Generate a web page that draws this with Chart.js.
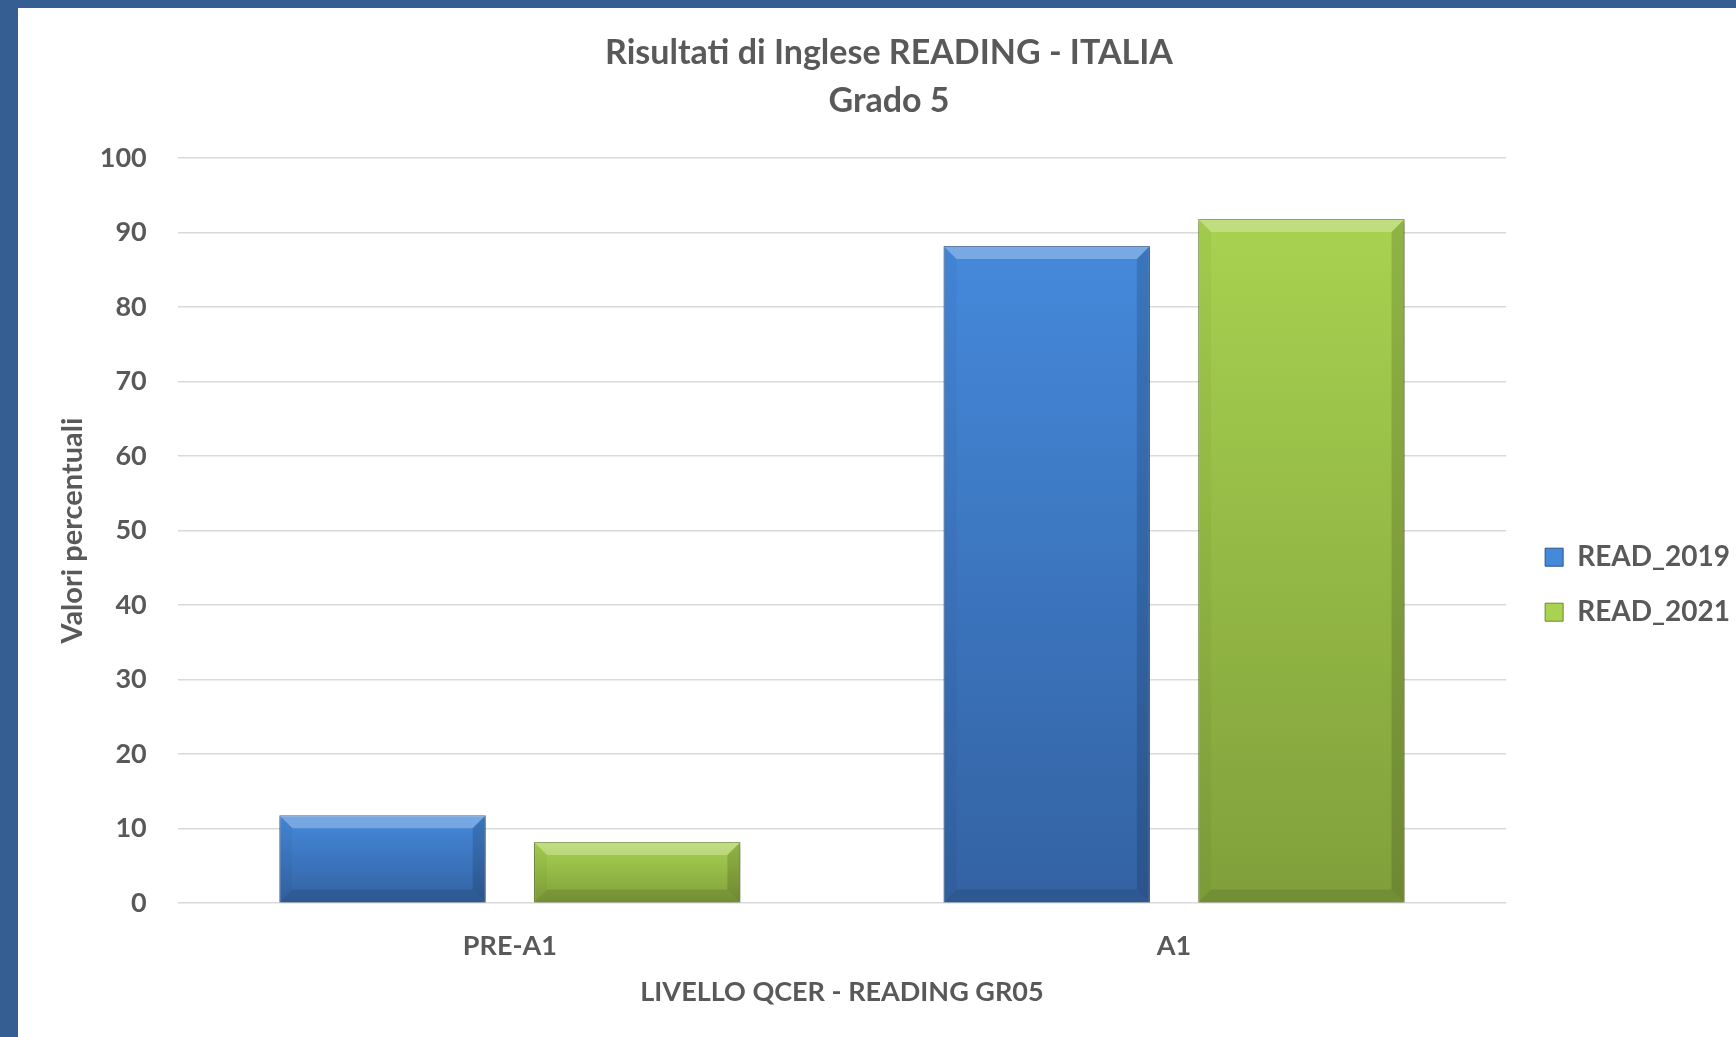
<!DOCTYPE html>
<html><head><meta charset="utf-8">
<script src="https://cdn.jsdelivr.net/npm/chart.js@4.4.1/dist/chart.umd.min.js"></script>
<style>
html,body{margin:0;padding:0;background:#355f92;width:1736px;height:1037px;overflow:hidden;}
#wrap{position:absolute;left:18px;top:8px;width:1718px;height:1029px;background:#ffffff;}
canvas{display:block;}
</style></head><body>
<div id="wrap"><canvas id="c" width="1718" height="1029" style="width:1718px;height:1029px"></canvas></div>
<script>
const categories = ['PRE-A1', 'A1'];
const read2019 = [11.8, 88.2];
const read2021 = [8.2, 91.8];
const seriesNames = ['READ_2019', 'READ_2021'];
const chartTitle = ['Risultati di Inglese READING - ITALIA', 'Grado 5'];
const yTitle = 'Valori percentuali';
const xTitle = 'LIVELLO QCER - READING GR05';
const yMin = 0, yMax = 100, yStep = 10;

const FONT = 'Lato, "Open Sans", sans-serif';
const GREY = '#595959';

function barFill(top, bottom, solid) {
  return (c) => {
    const chart = c.chart;
    if (c.type !== 'data' || !chart.scales || !chart.scales.y) return solid;
    const ys = chart.scales.y;
    const y0 = ys.getPixelForValue(c.raw), y1 = ys.getPixelForValue(0);
    if (!isFinite(y0) || !isFinite(y1) || y0 === y1) return solid;
    const g = chart.ctx.createLinearGradient(0, y0, 0, y1);
    g.addColorStop(0, top);
    g.addColorStop(1, bottom);
    return g;
  };
}

const bevel = {
  id: 'bevel',
  beforeDatasetsDraw(chart) {
    const ctx = chart.ctx;
    ctx.save();
    ctx.shadowColor = 'rgba(0,0,0,0.30)';
    ctx.shadowBlur = 6;
    ctx.shadowOffsetX = 1;
    ctx.shadowOffsetY = 2;
  },
  afterDatasetsDraw(chart) {
    const ctx = chart.ctx;
    ctx.restore();
    chart.data.datasets.forEach((ds, i) => {
      const meta = chart.getDatasetMeta(i);
      meta.data.forEach(el => {
        const p = el.getProps(['x', 'y', 'width', 'base'], true);
        const L = p.x - p.width / 2, R = p.x + p.width / 2, T = Math.min(p.y, p.base), B = Math.max(p.y, p.base);
        const b = Math.min(13, (B - T) / 3);
        const poly = (pts, col) => {
          ctx.beginPath();
          ctx.moveTo(pts[0][0], pts[0][1]);
          for (let k = 1; k < pts.length; k++) ctx.lineTo(pts[k][0], pts[k][1]);
          ctx.closePath();
          ctx.fillStyle = col;
          ctx.fill();
        };
        ctx.save();
        poly([[L, T], [R, T], [R - b, T + b], [L + b, T + b]], 'rgba(255,255,255,0.28)');
        poly([[R, T], [R, B], [R - b, B - b], [R - b, T + b]], 'rgba(0,0,0,0.14)');
        poly([[L, B], [R, B], [R - b, B - b], [L + b, B - b]], 'rgba(0,0,0,0.10)');
        poly([[L, T], [L + b, T + b], [L + b, B - b], [L, B]], 'rgba(0,0,0,0.03)');
        ctx.restore();
      });
    });
  }
};

new Chart(document.getElementById('c'), {
  type: 'bar',
  data: {
    labels: categories,
    datasets: [
      {
        label: seriesNames[0],
        data: read2019,
        backgroundColor: barFill('#4589db', '#3362a2', '#3f78c2'),
        borderColor: '#2c5487',
        borderWidth: 1,
        barPercentage: 0.81,
        categoryPercentage: 0.767
      },
      {
        label: seriesNames[1],
        data: read2021,
        backgroundColor: barFill('#a8d250', '#809f3b', '#95bb47'),
        borderColor: '#6d8a30',
        borderWidth: 1,
        barPercentage: 0.81,
        categoryPercentage: 0.767
      }
    ]
  },
  options: {
    responsive: false,
    animation: false,
    layout: { padding: { left: 20, right: -4, top: 0, bottom: 10 } },
    plugins: {
      title: {
        display: true,
        text: chartTitle,
        color: GREY,
        font: { family: FONT, size: 34, weight: 'bold', lineHeight: 1.412 },
        padding: { top: 21, bottom: 33 }
      },
      legend: {
        position: 'right',
        align: 'center',
        title: { display: true, text: '', padding: { top: 120, bottom: 0 } },
        labels: {
          boxWidth: 18,
          boxHeight: 18,
          padding: 27,
          color: GREY,
          font: { family: FONT, size: 28, weight: 'bold' }
        }
      },
      tooltip: { enabled: false }
    },
    scales: {
      x: {
        grid: { display: false, drawTicks: false },
        border: { display: false },
        ticks: { color: GREY, padding: 27, font: { family: FONT, size: 27, weight: 'bold' } },
        title: {
          display: true,
          text: xTitle,
          color: GREY,
          font: { family: FONT, size: 27, weight: 'bold' },
          padding: { top: -14, bottom: 19 }
        }
      },
      y: {
        min: yMin,
        max: yMax,
        ticks: { stepSize: yStep, color: GREY, padding: 31, font: { family: FONT, size: 27, weight: 'bold' } },
        grid: { color: '#d9d9d9', lineWidth: 1.5, drawTicks: false },
        border: { display: false },
        title: {
          display: true,
          text: yTitle,
          color: GREY,
          font: { family: FONT, size: 29, weight: 'bold' },
          padding: { top: 17, bottom: -21 }
        }
      },
      spacer: {
        position: 'right',
        display: true,
        grid: { display: false, drawTicks: false },
        border: { display: false },
        ticks: { display: false },
        afterFit: (s) => { s.width = 12; }
      }
    }
  },
  plugins: [bevel]
});
</script>
</body></html>
